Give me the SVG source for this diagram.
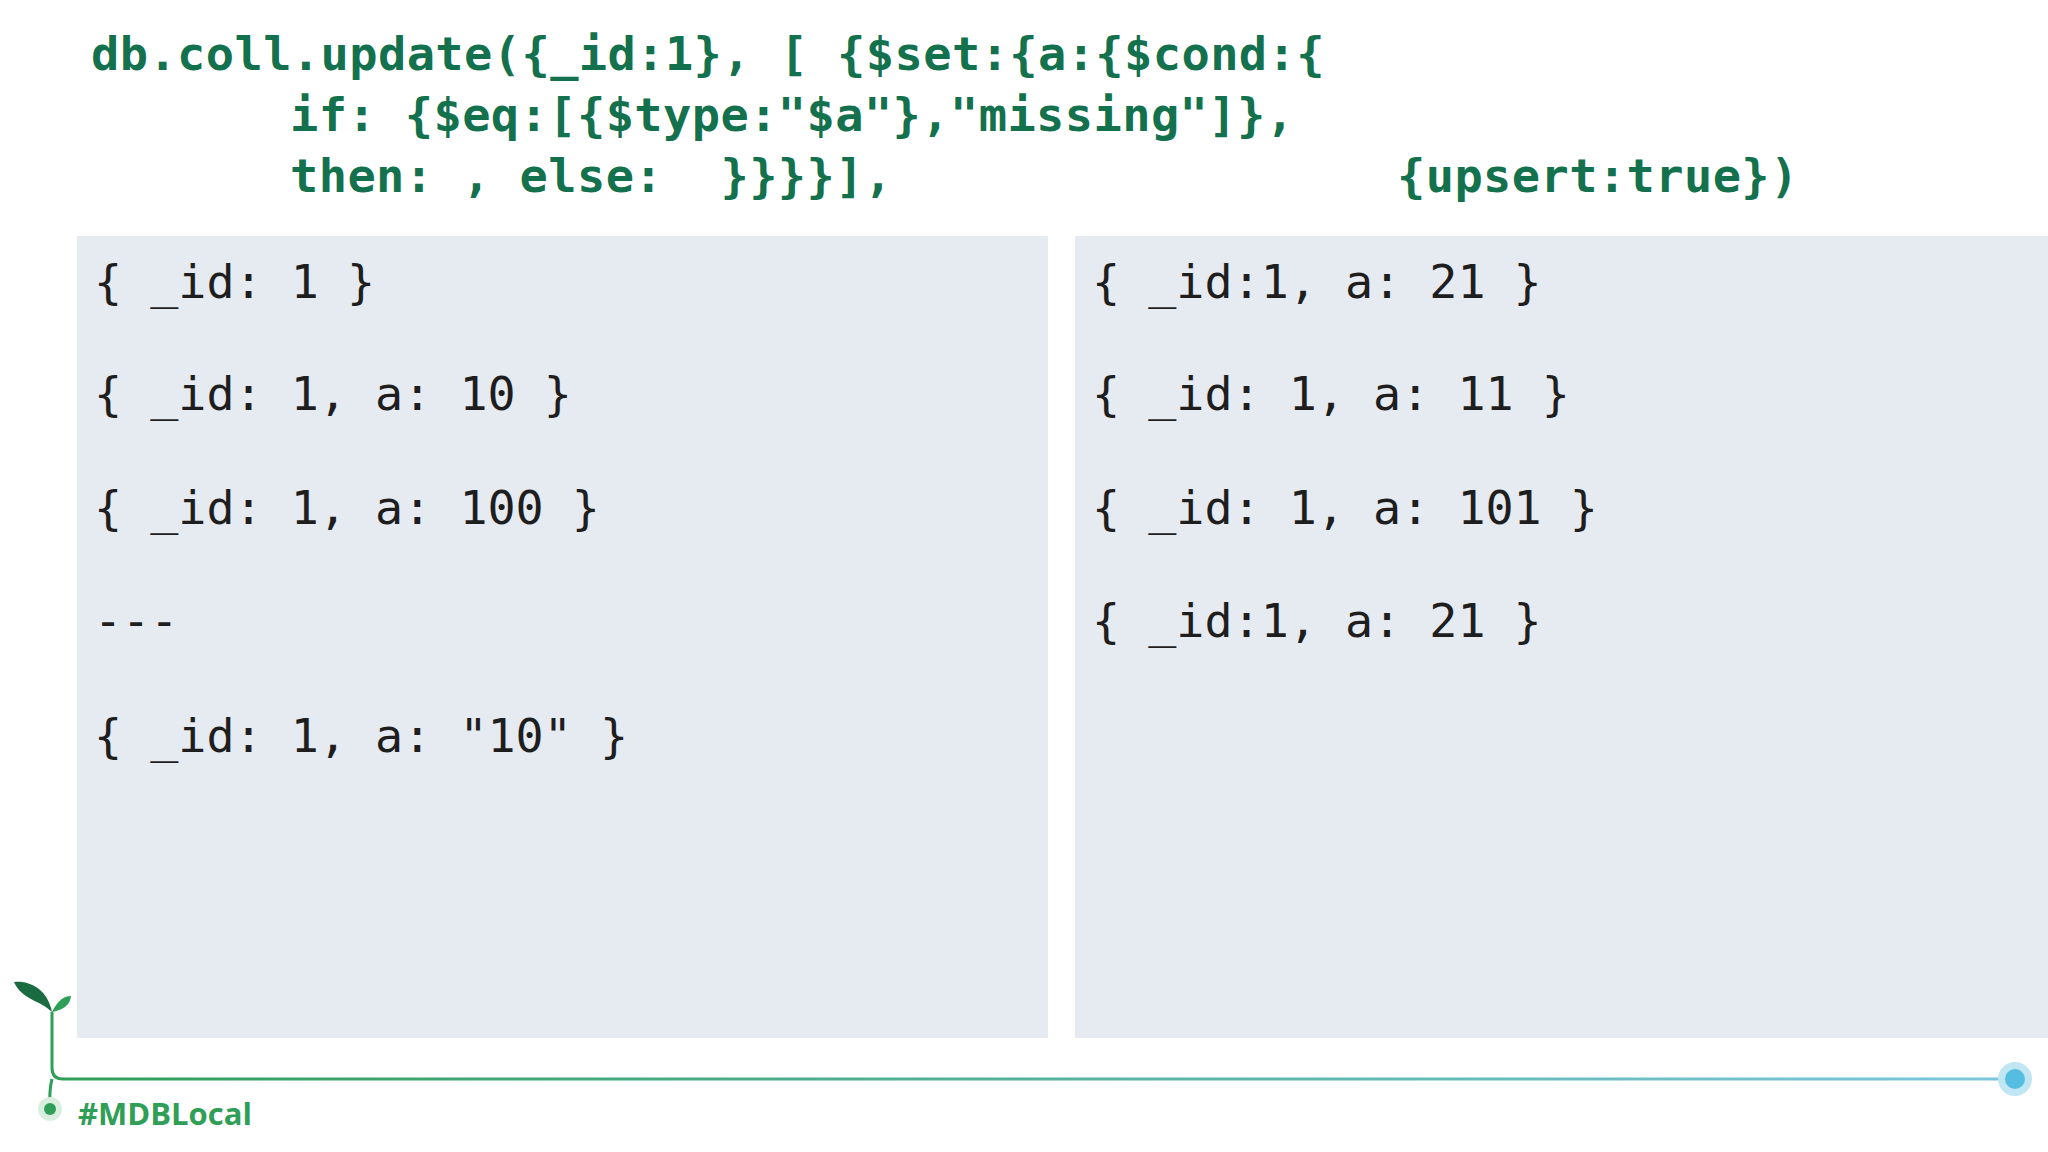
<svg xmlns="http://www.w3.org/2000/svg" width="2048" height="1152" viewBox="0 0 2048 1152">
<style>
.code{font-family:"DejaVu Sans Mono","Liberation Mono",monospace;font-weight:bold;font-size:47px;letter-spacing:0.4px;fill:#13714d}
.doc{font-family:"DejaVu Sans Mono","Liberation Mono",monospace;font-size:46.7px;fill:#1e1e1e}
.panel{fill:#e6eaf1}
</style>
<defs><linearGradient id="lg" x1="0" x2="1"><stop offset="0" stop-color="#2f9e57"/><stop offset="1" stop-color="#7cc6df"/></linearGradient></defs>
<rect width="2048" height="1152" fill="#fff"/>
<g id="code">
<text class="code" x="91" y="70" xml:space="preserve">db.coll.update({_id:1}, [ {$set:{a:{$cond:{</text>
<text class="code" x="290" y="131" xml:space="preserve">if: {$eq:[{$type:"$a"},"missing"]},</text>
<text class="code" x="290" y="192" xml:space="preserve">then: , else:  }}}}],</text>
<text class="code" x="1397" y="192">{upsert:true})</text>
</g>
<g id="left">
<rect class="panel" x="77" y="236" width="971" height="802"/>
<text class="doc" x="94" y="298">{ _id: 1 }</text>
<text class="doc" x="94" y="410">{ _id: 1, a: 10 }</text>
<text class="doc" x="94" y="524">{ _id: 1, a: 100 }</text>
<text class="doc" x="94" y="637">---</text>
<text class="doc" x="94" y="752">{ _id: 1, a: "10" }</text>
</g>
<g id="right">
<rect class="panel" x="1075" y="236" width="973" height="802"/>
<text class="doc" x="1092" y="298">{ _id:1, a: 21 }</text>
<text class="doc" x="1092" y="410">{ _id: 1, a: 11 }</text>
<text class="doc" x="1092" y="524">{ _id: 1, a: 101 }</text>
<text class="doc" x="1092" y="637">{ _id:1, a: 21 }</text>
</g>
<g id="connectors">
<path d="M52 1012 V1068 Q52 1079 63 1079 H2015" fill="none" stroke="url(#lg)" stroke-width="3"/>
<path d="M52 1079 Q49 1090 50 1109" fill="none" stroke="#2f9e57" stroke-width="3"/>
</g>
<g id="brand">
<path d="M52 1012 C40 1000 22 1000 14 982 C30 980 48 990 52 1012Z" fill="#1a6b40"/>
<path d="M52 1012 C58 1000 64 996 71 996 C70 1006 62 1010 52 1012Z" fill="#2f9e57"/>
<circle cx="50" cy="1109" r="12" fill="#d8efe0"/>
<circle cx="50" cy="1109" r="6" fill="#2f9e57"/>
<circle cx="2015" cy="1079" r="17" fill="#bfe6f2"/>
<circle cx="2015" cy="1079" r="10" fill="#55bde0"/>
<text x="78" y="1125" font-family="'Open Sans','DejaVu Sans',sans-serif" font-weight="bold" font-size="31" fill="#2f9e57">#MDBLocal</text>
</g>
</svg>
